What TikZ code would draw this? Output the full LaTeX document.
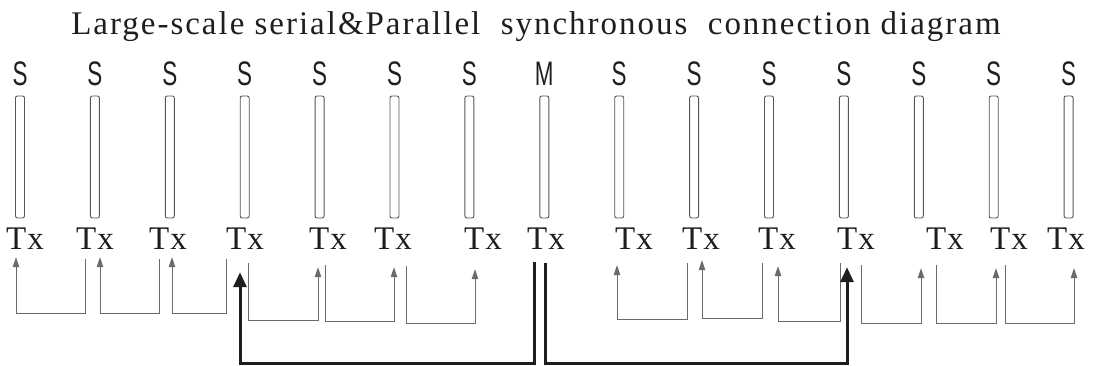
\documentclass[tikz,border=0pt]{standalone}
\usepackage{fontspec}
\setmainfont{Liberation Serif}
\newfontfamily\titlefont[LetterSpace=6]{Liberation Serif}
\newfontfamily\labfont{Liberation Sans}
\usetikzlibrary{calc,arrows.meta}
\definecolor{wiregray}{HTML}{6A6A6A}
\definecolor{bargray}{HTML}{555555}
\definecolor{ink}{HTML}{1E1E1E}
\tikzset{
  titletext/.style={font=\titlefont\fontsize{33}{36}\selectfont, text=ink, inner sep=0pt, anchor=base},
  role/.style={font=\labfont\fontsize{34}{36}\selectfont, text=ink, inner sep=0pt, anchor=base},
  bar/.style={draw=bargray, line width=0.9pt, rounded corners=2pt, minimum width=9pt, minimum height=122pt, inner sep=0pt},
  txlabel/.style={font=\fontsize{33}{35}\selectfont, text=ink, inner sep=0pt, anchor=base},
  wire/.style={draw=wiregray, line width=1pt, -{Triangle[length=10pt,width=6.5pt]}},
  bus/.style={draw=ink, line width=3pt, -{Triangle[length=15pt,width=13pt]}}
}
% chain link: source Tx, offset, bend level, target Tx, offset, style
\newcommand\link[8]{%
  \coordinate (lv) at (0,#4);
  \coordinate (ps) at ($(#1.south)+(#2,#3)$);
  \coordinate (pd) at ($(#5.south)+(#6,#7)$);
  \draw[#8] (ps) -- (ps |- lv) -| (pd);}
\begin{document}
\begin{tikzpicture}[x=1pt,y=-1pt]
\useasboundingbox (0,0) rectangle (1094,366);
\node[titletext] (title) at (536,35) {Large-scale serial\&Parallel\ \ synchronous\ \ connection diagram};
% board columns
\foreach \i/\r/\tx in {1/S/25,2/S/95,3/S/168,4/S/245,5/S/328,6/S/393,7/S/483,8/M/546,9/S/634,10/S/701,11/S/777,12/S/856,13/S/945,14/S/1009,15/S/1066}{
  \pgfmathsetmacro\cx{20+74.9*(\i-1)}
  \node[role] (s\i) at (\cx,86) {\scalebox{0.66}[1]{\r}};
  \node[bar] (b\i) at (\cx,157) {};
  \node[txlabel] (t\i) at (\tx,249) {T\kern1pt x};
}
% serial links
\link{t2}{-10}{10}{313}{t1}{-9}{8}{wire}
\link{t3}{-9}{10}{313}{t2}{5}{8}{wire}
\link{t4}{-19}{10}{313}{t3}{4}{8}{wire}
\link{t4}{3}{14}{320}{t5}{-10}{18}{wire}
\link{t5}{-3}{16}{321}{t6}{1}{18}{wire}
\link{t6}{13}{17}{323}{t7}{-8}{20}{wire}
\link{t10}{-14}{14}{319}{t9}{-17}{16}{wire}
\link{t11}{-15}{14}{318}{t10}{1}{11}{wire}
\link{t12}{-16}{14}{321}{t11}{1}{17}{wire}
\link{t12}{5}{16}{323}{t13}{-24}{19}{wire}
\link{t13}{-9}{16}{323}{t14}{-13}{19}{wire}
\link{t14}{-4}{16}{323}{t15}{8}{19}{wire}
% parallel feeds from the master
\link{t8}{-12}{13}{363}{t4}{-5}{23}{bus}
\link{t8}{-1}{14}{363}{t12}{-9}{18}{bus}
\end{tikzpicture}
\end{document}
